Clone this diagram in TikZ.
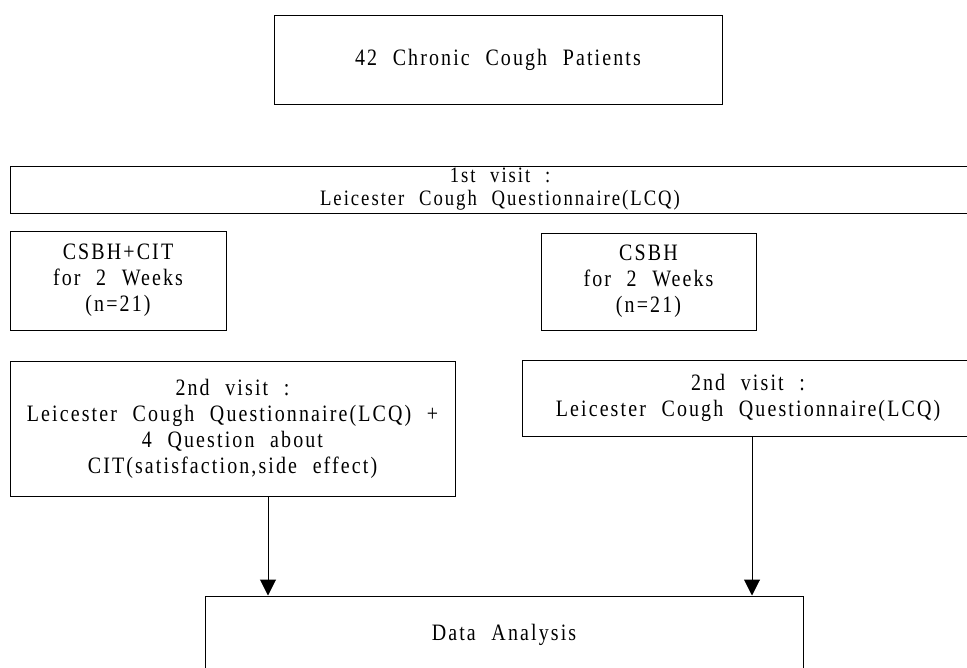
\documentclass[tikz,border=0pt]{standalone}
\usepackage{fontspec}
\setmainfont{Liberation Serif}[FakeStretch=0.85,LetterSpace=9,WordSpace=2.2]
\usetikzlibrary{arrows.meta}
\begin{document}
\begin{tikzpicture}[x=1pt,y=-1pt,
  box/.style={draw=black,line width=1pt,inner sep=0pt,align=center,font=\fontsize{23.5}{26}\selectfont},
  arr/.style={line width=1pt,-{Triangle[width=16pt,length=16pt]}}]
\useasboundingbox (0,0) rectangle (967,667);
\clip (0,0) rectangle (967,667);
\node[box,minimum width=448pt,minimum height=89pt] (top) at (498,59.5) {42 Chronic Cough Patients};
\node[box,minimum width=980pt,minimum height=47pt,font=\fontsize{22}{23}\selectfont] (v1) at (500,189.5) {1st visit :\\Leicester Cough Questionnaire(LCQ)};
\node[box,minimum width=216pt,minimum height=99pt] (g1) at (118,280.5) {CSBH+CIT\\for 2 Weeks\\(n=21)};
\node[box,minimum width=215pt,minimum height=97pt] (g2) at (648.5,281.5) {CSBH\\for 2 Weeks\\(n=21)};
\node[box,minimum width=445pt,minimum height=135pt] (v2a) at (232.5,428.5) {2nd visit :\\Leicester Cough Questionnaire(LCQ) +\\4 Question about\\CIT(satisfaction,side effect)};
\node[box,minimum width=452pt,minimum height=76pt] (v2b) at (748,398) {2nd visit :\\Leicester Cough Questionnaire(LCQ)};
\node[box,minimum width=598pt,minimum height=78pt] (data) at (504,635) {Data Analysis};
\coordinate (xa) at (268,0);
\coordinate (xb) at (752,0);
\draw[arr] (v2a.south -| xa) -- (data.north -| xa);
\draw[arr] (v2b.south -| xb) -- (data.north -| xb);
\end{tikzpicture}
\end{document}
